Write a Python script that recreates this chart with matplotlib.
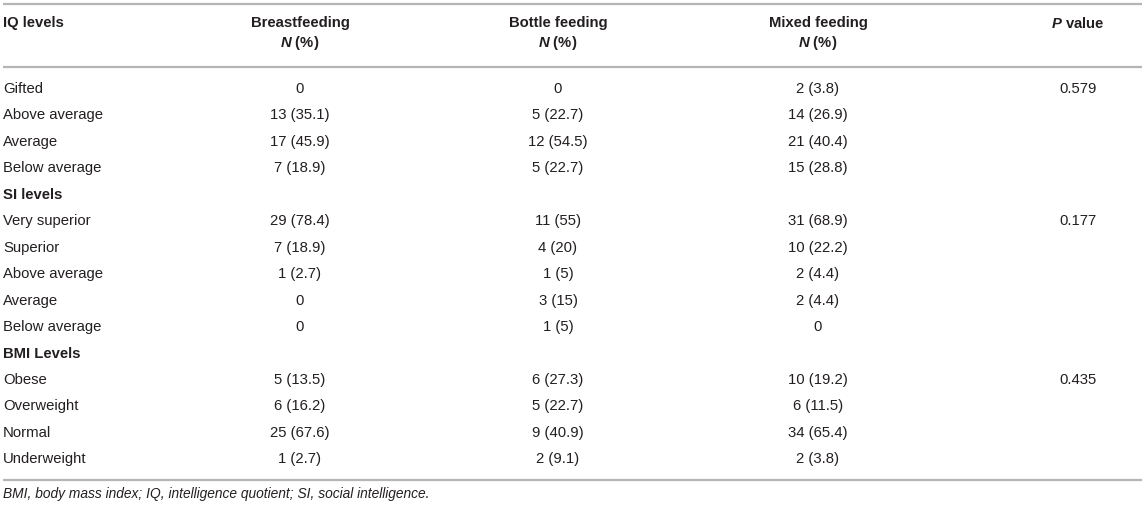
import matplotlib
matplotlib.use('Agg')
import matplotlib.pyplot as plt

plt.rcParams['font.family'] = 'Liberation Sans'
plt.rcParams['mathtext.fontset'] = 'custom'
plt.rcParams['mathtext.bfit'] = 'Liberation Sans:bold:italic'
plt.rcParams['mathtext.it'] = 'Liberation Sans:italic'

# table content
col_titles = ['Breastfeeding', 'Bottle feeding', 'Mixed feeding']
row_labels = ['Gifted', 'Above average', 'Average', 'Below average',
              'SI levels',
              'Very superior', 'Superior', 'Above average', 'Average', 'Below average',
              'BMI Levels',
              'Obese', 'Overweight', 'Normal', 'Underweight']
section_rows = ['SI levels', 'BMI Levels']
breast = ['0', '13 (35.1)', '17 (45.9)', '7 (18.9)',
          '',
          '29 (78.4)', '7 (18.9)', '1 (2.7)', '0', '0',
          '',
          '5 (13.5)', '6 (16.2)', '25 (67.6)', '1 (2.7)']
bottle = ['0', '5 (22.7)', '12 (54.5)', '5 (22.7)',
          '',
          '11 (55)', '4 (20)', '1 (5)', '3 (15)', '1 (5)',
          '',
          '6 (27.3)', '5 (22.7)', '9 (40.9)', '2 (9.1)']
mixed = ['2 (3.8)', '14 (26.9)', '21 (40.4)', '15 (28.8)',
         '',
         '31 (68.9)', '10 (22.2)', '2 (4.4)', '2 (4.4)', '0',
         '',
         '10 (19.2)', '6 (11.5)', '34 (65.4)', '2 (3.8)']
p_values = ['0.579', '', '', '',
            '',
            '0.177', '', '', '', '',
            '',
            '0.435', '', '', '']
footnote = 'BMI, body mass index; IQ, intelligence quotient; SI, social intelligence.'

# layout (pixels)
W, H = 1145, 509
col_x = [300, 558, 818]
p_x = 1078
left_x = 3
row_y0 = 89
row_step = 26.45
text_color = '#231f20'
line_color = '#b5b5b5'
fs = 10.7

fig = plt.figure(figsize=(W / 100, H / 100), dpi=100)
ax = fig.add_axes([0, 0, 1, 1])
ax.set_xlim(0, W)
ax.set_ylim(H, 0)
ax.axis('off')

for y in [4, 67, 480]:
    ax.plot([3, 1142], [y, y], color=line_color, lw=1.6, solid_capstyle='butt')

# header
ax.text(left_x, 23, 'IQ levels', fontsize=fs, fontweight='bold', color=text_color,
        ha='left', va='center')
for x, t in zip(col_x, col_titles):
    ax.text(x, 23, t, fontsize=fs, fontweight='bold', color=text_color,
            ha='center', va='center')
    ax.text(x, 43, r'$\mathbfit{N}$ (%)', fontsize=fs, fontweight='bold',
            color=text_color, ha='center', va='center')
ax.text(p_x, 23, r'$\mathbfit{P}$ value', fontsize=fs, fontweight='bold',
        color=text_color, ha='center', va='center')

# body
for i, lab in enumerate(row_labels):
    y = row_y0 + i * row_step
    bold = lab in section_rows and breast[i] == ''
    ax.text(left_x, y, lab, fontsize=fs, fontweight='bold' if bold else 'normal',
            color=text_color, ha='left', va='center')
    for x, col in zip(col_x, [breast, bottle, mixed]):
        ax.text(x, y, col[i], fontsize=fs, color=text_color, ha='center', va='center')
    ax.text(p_x, y, p_values[i], fontsize=fs, color=text_color, ha='center', va='center')

ax.text(left_x, 494, footnote, fontsize=fs * 0.93, style='italic', color=text_color,
        ha='left', va='center')

fig.savefig('out.png', dpi=100)
